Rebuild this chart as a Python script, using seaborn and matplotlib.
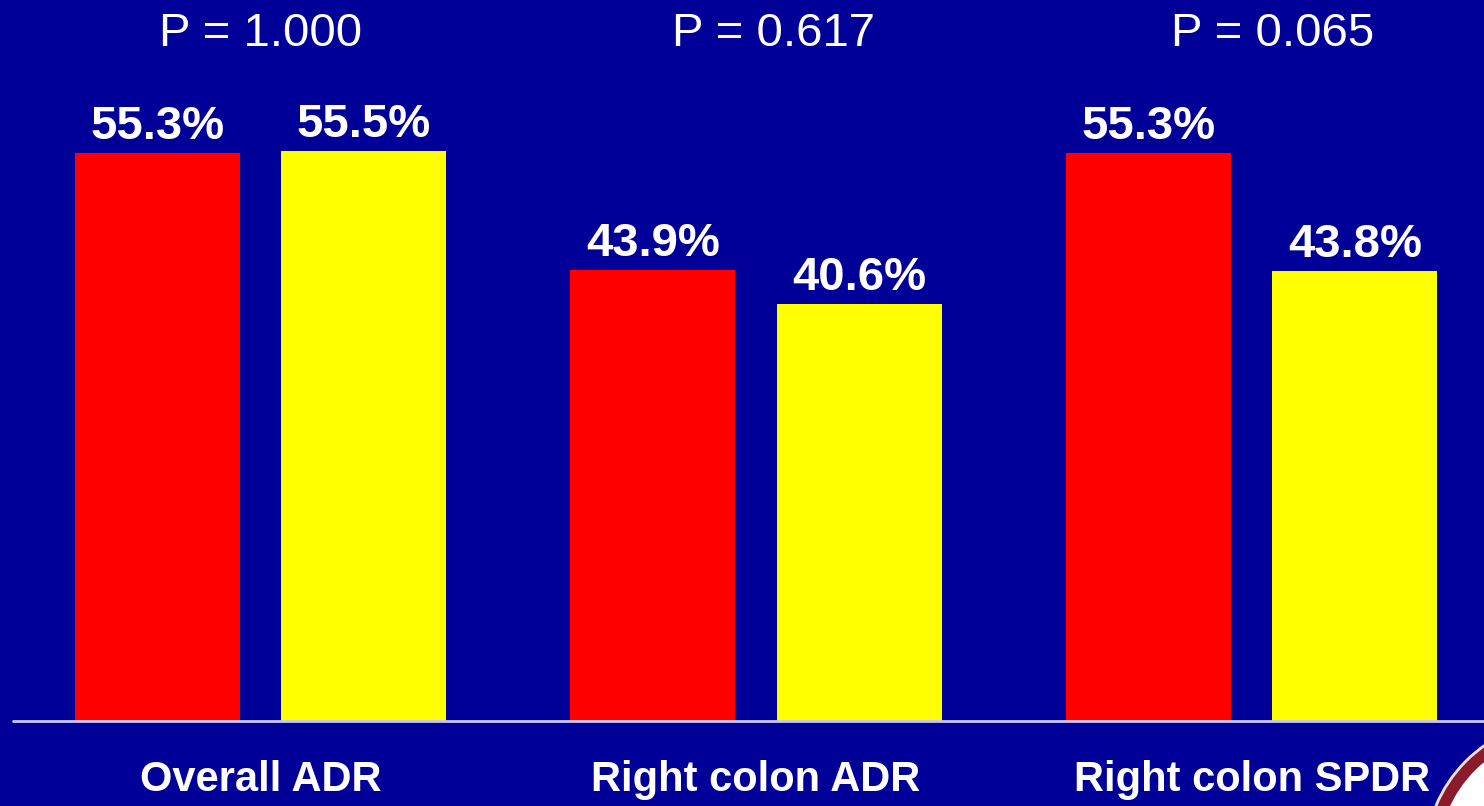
import matplotlib.pyplot as plt
import matplotlib.patches as mpatches
import matplotlib.transforms as mtransforms
import pandas as pd
import seaborn as sns

categories = ['Overall ADR', 'Right colon ADR', 'Right colon SPDR']
groups = ['Group A', 'Group B']
group_a = [55.3, 43.9, 55.3]
group_b = [55.5, 40.6, 43.8]
p_labels = ['P = 1.000', 'P = 0.617', 'P = 0.065']

BG = '#000099'

df = pd.DataFrame({
    'category': categories * 2,
    'group': [groups[0]] * 3 + [groups[1]] * 3,
    'value': group_a + group_b,
})

sns.set_theme(style='white')
plt.rcParams['font.family'] = ['Liberation Sans', 'DejaVu Sans']

fig = plt.figure(figsize=(14.84, 8.06), dpi=100, facecolor=BG)
ax = fig.add_axes([0, 85 / 806, 1, 721 / 806])
ax.set_facecolor(BG)

sns.barplot(data=df, x='category', y='value', hue='group', ax=ax,
            palette=['#ff0000', '#ffff00'], width=0.8335, gap=0.2,
            legend=False, saturation=1, edgecolor='none')

for cont in ax.containers:
    ax.bar_label(cont, labels=['%.1f%%' % v for v in cont.datavalues],
                 padding=3, color='white', fontsize=34, fontweight='bold')

ax.set_xlim(-0.5257, 2.469)
ax.set_ylim(0, 70.2)
ax.set_yticks([])
ax.set_xlabel('')
ax.set_ylabel('')
ax.tick_params(axis='x', length=0, pad=28, labelsize=30, labelcolor='white')
for lbl in ax.get_xticklabels():
    lbl.set_fontweight('bold')
for s in ax.spines.values():
    s.set_visible(False)
ax.axhline(0, xmin=13 / 1484, xmax=1, color='#c8c8f0', lw=2, clip_on=False, zorder=5)

# p-values above each group
trans = mtransforms.blended_transform_factory(ax.transData, fig.transFigure)
for x, txt in zip([0.0, 1.036, 2.043], p_labels):
    ax.text(x, 1 - 46 / 806, txt, transform=trans, ha='center', va='baseline',
            color='white', fontsize=34)

# partial seal in the bottom-right corner
for r, fc, ec, lw in [(140, '#8b1a2b', '#f0e0e0', 2), (127, 'white', 'none', 0),
                      (75, '#8b1a2b', 'none', 0)]:
    c = mpatches.Ellipse((1565 / 1484, 1 - 860 / 806), 2 * r / 1484, 2 * r / 806,
                         transform=fig.transFigure, facecolor=fc, edgecolor=ec,
                         linewidth=lw, clip_on=False)
    fig.patches.append(c)

fig.savefig('out.png', dpi=100, facecolor=BG)
